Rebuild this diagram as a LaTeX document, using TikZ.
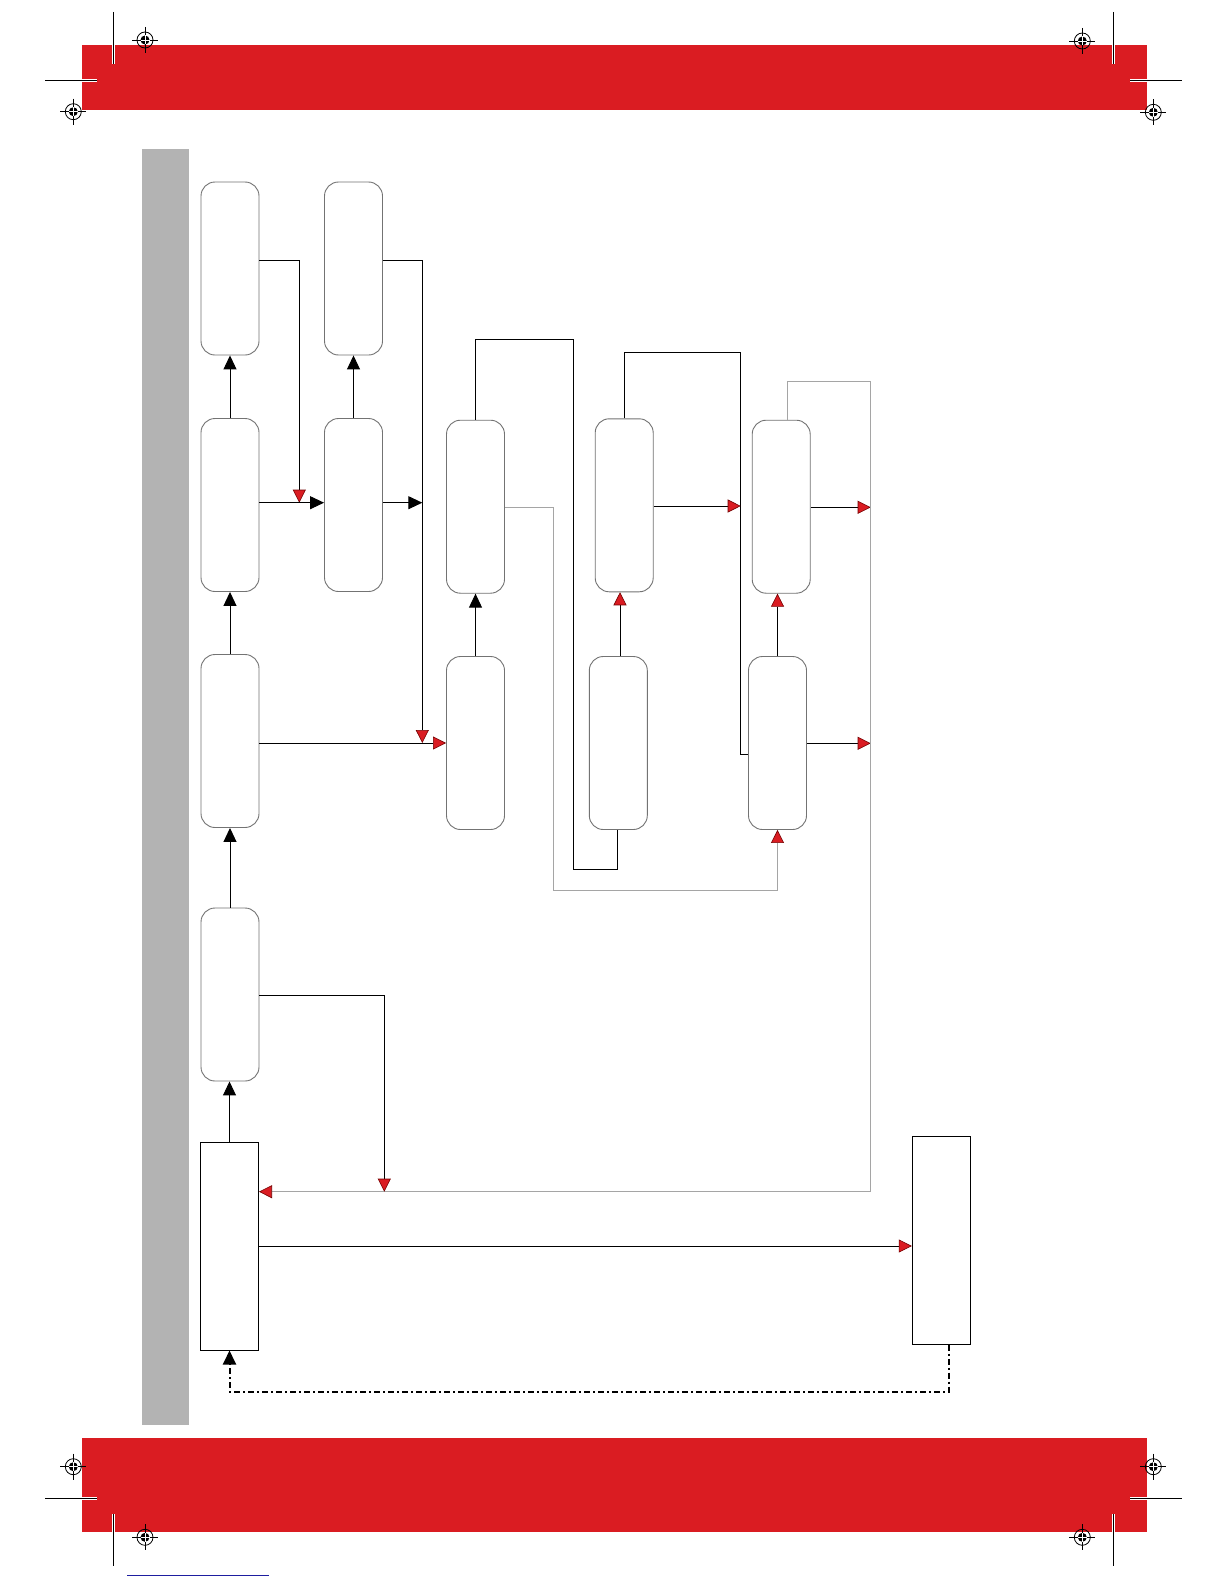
\documentclass[tikz,border=0pt]{standalone}
\usetikzlibrary{arrows.meta,calc}
\definecolor{bandred}{RGB}{218,28,34}
\definecolor{barGray}{RGB}{179,179,179}
\definecolor{lineGray}{RGB}{165,165,165}
\definecolor{boxGray}{RGB}{115,115,115}
\definecolor{linkBlue}{RGB}{30,30,160}
\begin{document}
\begin{tikzpicture}[x=1pt,y=-1pt,
  vbox/.style={draw=boxGray,line width=0.9pt,rounded corners=14pt,minimum width=58pt,minimum height=173pt,inner sep=0pt},
  rbox/.style={draw=black,line width=1pt,minimum width=58pt,minimum height=208pt,inner sep=0pt},
  blk/.style={line width=1pt,draw=black},
  gry/.style={line width=1pt,draw=lineGray},
  barr/.style={-{Triangle[length=14pt,width=13pt,color=black]}},
  rarr/.style={-{Triangle[length=13pt,width=13pt,fill=bandred,color=red!45!black,line width=0.6pt]}},
  dashdot/.style={line width=2pt,draw=black,dash pattern=on 6pt off 3pt on 2pt off 3pt},
  cropm/.style={line width=1pt,draw=black,preaction={draw=white,line width=3pt}},
  regm/.pic={
    \draw[line width=0.8pt] (0,0) circle (8pt);
    \draw[line width=0.8pt] (-13,0) -- (13,0) (0,-13) -- (0,13);
    \fill (0,0) circle (4.5pt);
    \draw[white,line width=0.8pt] (-4.5,0) -- (4.5,0) (0,-4.5) -- (0,4.5);
  }]
\useasboundingbox (0,0) rectangle (1224,1584);
\fill[white] (0,0) rectangle (1224,1584);
% bands and bar
\fill[bandred] (82,45) rectangle (1147,110);
\fill[bandred] (82,1437.7) rectangle (1147,1531.7);
\fill[barGray] (141.5,148.5) rectangle (189,1425);
% crop marks
\draw[cropm] (113.3,12) -- (113.3,64);
\draw[cropm] (45,80.7) -- (97.3,80.7);
\draw[cropm] (1113.3,12) -- (1113.3,64);
\draw[cropm] (1130,81) -- (1181.7,81);
\draw[cropm] (45,1498.3) -- (97.3,1498.3);
\draw[cropm] (113.3,1514) -- (113.3,1566);
\draw[cropm] (1130,1498.3) -- (1181.7,1498.3);
\draw[cropm] (1113.3,1514) -- (1113.3,1566);
% registration marks
\pic at (145,40) {regm};
\pic at (73.3,111.7) {regm};
\pic at (1082.3,41) {regm};
\pic at (1153.3,112.3) {regm};
\pic at (73.3,1466.7) {regm};
\pic at (145,1537.3) {regm};
\pic at (1153.3,1466.7) {regm};
\pic at (1082.3,1537.3) {regm};
% blue line
\draw[linkBlue,line width=1pt] (127.3,1575) -- (268.7,1575);
% boxes
\node[vbox] (A1) at (230,268.5) {};
\node[vbox] (A2) at (230,505) {};
\node[vbox] (A3) at (230,741) {};
\node[vbox] (A4) at (230,994.5) {};
\node[rbox] (A5) at (229.5,1246) {};
\node[vbox] (B1) at (353.5,268.5) {};
\node[vbox] (B2) at (353.5,505) {};
\node[vbox] (C1) at (475.5,506.7) {};
\node[vbox] (C2) at (475.5,743) {};
\node[vbox] (D1) at (624.2,505.3) {};
\node[vbox] (D2) at (618.3,743) {};
\node[vbox] (E1) at (781.2,506.7) {};
\node[vbox] (E2) at (777.5,743) {};
\node[rbox] (F) at (941.3,1240.2) {};
% junction coordinates
\coordinate (j1) at (299.3,502.7);
\coordinate (j2) at (422.3,502.7);
\coordinate (j3) at (422.3,743);
\coordinate (j4) at (740.7,506);
\coordinate (j5) at (870.7,507.3);
\coordinate (j6) at (870.7,743.3);
\coordinate (j7) at (384.3,1191.7);
% column arrows
\draw[blk,barr] (A2.north) -- (A1.south);
\draw[blk,barr] (A3.north) -- (A2.south);
\draw[blk,barr] (A4.north) -- (A3.south);
\draw[blk,barr] (A5.north) -- (A5.north |- A4.south);
\draw[blk,barr] (B2.north) -- (B1.south);
\draw[blk,barr] (C2.north) -- (C1.south);
\draw[blk,rarr] (D2.north -| 620,0) -- (D1.south -| 620,0);
\draw[blk,rarr] (E2.north) -- (E2.north |- E1.south);
% top connectors
\draw[blk,rarr] (A1.east |- 0,260) -| (j1);
\draw[blk,barr] (A2.east |- j1) -- (B2.west |- j1);
\draw[blk,barr] (B2.east |- j2) -- (j2);
\draw[blk,rarr] (B1.east |- 0,260) -| (j3);
\draw[blk,rarr] (A3.east |- j3) -- (C2.west |- j3);
\draw[blk] (C1.north) |- (573.3,339.3) -- (573.3,869.5) -| (D2.south -| 617.7,0);
\draw[gry,rarr] (C1.east |- 0,507.7) -| (553,890) -| (E2.south);
\draw[blk] (D1.north) |- (740.7,352) -- (740.7,754.3) -- (E2.west |- 0,754.3);
\draw[blk,rarr] (D1.east |- j4) -- (j4);
\draw[blk,rarr] (E1.east |- j5) -- (j5);
\draw[blk,rarr] (E2.east |- j6) -- (j6);
\draw[gry,rarr] ([xshift=6.5pt]E1.north) |- (870.7,381) -- (870.7,1191.7) -- (A5.east |- 0,1191.7);
\draw[blk,rarr] (A4.east |- 0,995.8) -| (j7);
\draw[blk,rarr] (A5.east |- 0,1246) -- (F.west |- 0,1246);
\draw[dashdot,barr] ([xshift=7.4pt]F.south) |- (229.5,1391.7) -- (A5.south);
\end{tikzpicture}
\end{document}
